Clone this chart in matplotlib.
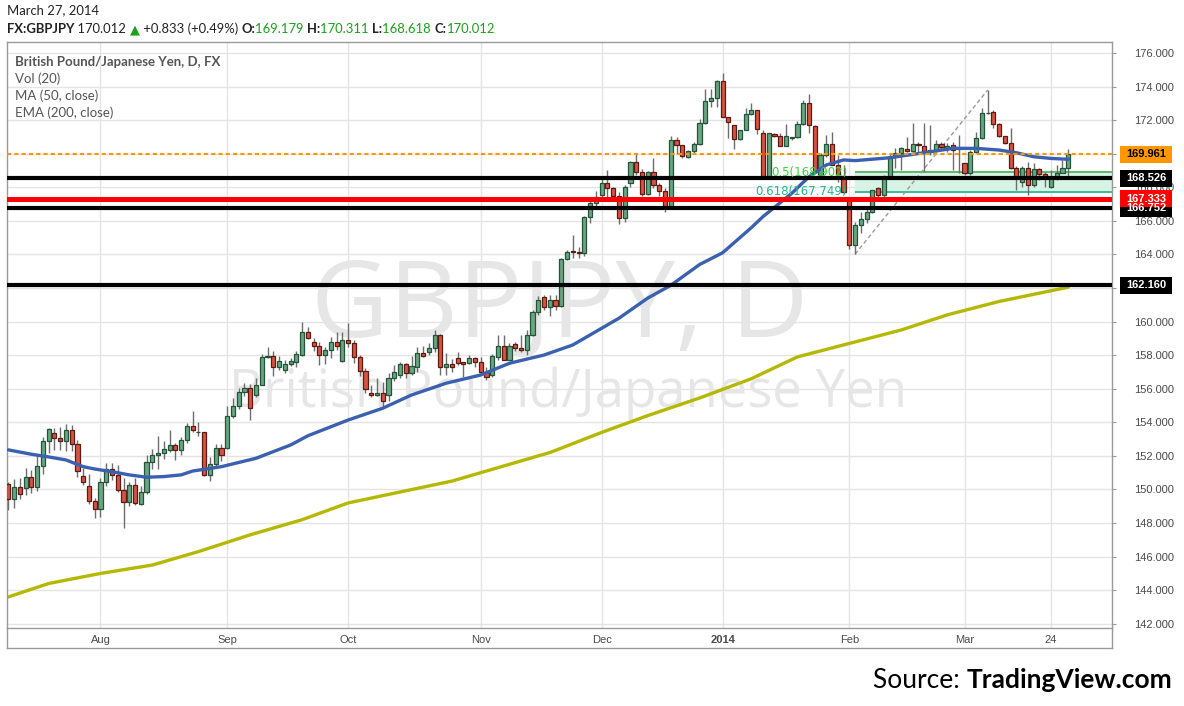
import numpy as np
import pandas as pd
import matplotlib
matplotlib.use("Agg")
import matplotlib.pyplot as plt
from matplotlib.patches import Rectangle

W, H = 1184, 706

# daily bars, Jul 10 2013 .. Mar 27 2014 (no bar on Dec 25 / Jan 1)
dates = pd.bdate_range("2013-07-10", "2014-03-27")
dates = dates[~dates.isin(pd.to_datetime(["2013-12-25", "2014-01-01"]))]

opens = [150.32, 149.46, 150.14, 150.10, 150.76, 150.16, 151.42, 152.86, 153.34, 153.04,
         152.86, 153.52, 152.70, 150.82, 150.22, 149.32, 148.86, 150.47, 151.22, 150.86,
         149.98, 149.24, 150.24, 149.14, 149.84, 151.65, 152.08, 152.20, 152.35, 152.67,
         152.35, 152.94, 153.80, 153.40, 153.42, 150.85, 151.54, 152.48, 152.48, 154.36,
         154.95, 155.78, 156.04, 155.64, 156.24, 157.92, 157.98, 157.27, 157.09, 157.50,
         157.62, 158.02, 159.41, 158.81, 158.57, 158.02, 158.28, 158.81, 157.66, 158.91,
         158.75, 157.92, 157.07, 155.72, 155.64, 155.76, 155.63, 156.63, 156.80, 157.48,
         156.92, 157.32, 158.12, 158.17, 158.41, 159.21, 157.28, 157.48, 157.82, 157.58,
         157.56, 157.86, 157.62, 157.02, 156.80, 157.91, 158.55, 157.71, 158.67, 158.41,
         158.29, 159.20, 160.55, 161.44, 160.89, 161.28, 160.95, 163.73, 164.20, 164.14,
         164.07, 166.25, 167.05, 167.55, 168.24, 167.94, 167.50, 166.15, 168.24, 169.49,
         168.93, 167.60, 168.89, 168.14, 167.80, 166.89, 170.82, 170.52, 169.79, 170.17,
         170.58, 171.81, 173.16, 173.30, 174.33, 172.21, 171.71, 170.86, 171.42, 172.37,
         172.61, 171.22, 168.68, 171.18, 171.06, 170.48, 170.96, 170.98, 171.78, 173.05,
         171.66, 168.68, 169.93, 170.60, 169.30, 168.68, 167.25, 164.57, 165.76, 166.10,
         166.55, 167.94, 167.55, 168.64, 169.89, 170.03, 170.28, 170.17, 170.56, 170.48,
         170.17, 170.23, 170.56, 170.36, 170.52, 170.30, 169.43, 168.87, 170.12, 170.92,
         172.40, 172.47, 171.75, 171.06, 170.62, 169.13, 168.33, 169.13, 168.14, 169.07,
         168.79, 167.99, 168.53, 168.87, 169.179]
highs = [150.42, 150.60, 150.66, 151.26, 151.16, 152.06, 153.10, 153.66, 153.66, 153.70,
         153.90, 153.86, 152.96, 151.26, 150.90, 149.52, 150.67, 151.55, 151.59, 151.45,
         150.70, 150.47, 150.67, 150.18, 152.08, 152.43, 153.20, 152.86, 153.55, 152.78,
         153.12, 153.96, 154.65, 154.02, 153.42, 151.92, 152.71, 152.71, 154.95, 155.45,
         156.04, 156.34, 156.28, 156.63, 158.06, 158.51, 158.26, 157.98, 157.72, 157.82,
         158.26, 160.00, 159.70, 159.01, 158.81, 158.51, 159.11, 159.41, 159.41, 159.94,
         158.91, 158.02, 157.23, 156.20, 156.67, 156.40, 156.96, 157.42, 157.62, 157.56,
         157.96, 158.51, 158.55, 158.71, 159.50, 159.27, 158.12, 157.76, 158.21, 157.62,
         158.02, 157.92, 157.90, 157.30, 158.10, 159.20, 159.20, 158.74, 158.80, 159.20,
         159.50, 160.69, 161.54, 161.58, 161.58, 161.58, 163.77, 164.26, 165.16, 164.43,
         166.29, 167.25, 167.80, 168.68, 169.03, 168.04, 167.74, 168.14, 169.59, 169.99,
         169.07, 168.97, 169.73, 168.24, 167.94, 171.06, 171.02, 170.52, 170.23, 170.72,
         172.05, 173.84, 173.84, 174.39, 174.79, 172.21, 171.71, 171.42, 172.71, 173.00,
         172.61, 171.42, 171.26, 171.22, 171.22, 171.76, 171.02, 171.92, 173.20, 173.56,
         171.72, 170.03, 171.12, 171.30, 169.90, 169.30, 167.25, 165.96, 166.50, 166.70,
         167.84, 168.04, 168.74, 169.97, 170.32, 170.42, 171.02, 171.81, 170.68, 171.81,
         171.71, 170.82, 170.72, 170.62, 170.72, 171.11, 169.47, 170.22, 171.32, 172.70,
         173.79, 172.60, 171.85, 171.06, 171.51, 169.27, 169.27, 169.53, 169.43, 169.13,
         168.93, 169.03, 169.33, 169.63, 170.311]
lows = [148.76, 148.92, 149.42, 149.66, 149.80, 149.92, 150.90, 152.20, 152.36, 152.36,
        152.30, 152.30, 150.72, 150.26, 149.12, 148.30, 148.35, 150.22, 150.57, 149.84,
        147.69, 149.00, 149.06, 149.06, 149.73, 151.25, 151.25, 151.80, 152.24, 151.75,
        152.08, 152.78, 153.43, 153.17, 150.79, 150.53, 151.29, 151.70, 152.44, 154.26,
        154.81, 155.54, 154.16, 155.48, 156.20, 157.82, 156.79, 157.13, 156.93, 157.33,
        157.31, 157.98, 158.97, 158.26, 157.39, 157.47, 157.82, 158.32, 157.62, 158.51,
        157.52, 156.79, 155.74, 155.49, 155.54, 154.89, 155.30, 156.49, 156.63, 156.63,
        156.82, 157.02, 157.88, 158.02, 158.21, 156.82, 156.82, 157.02, 157.42, 156.72,
        157.48, 157.32, 156.80, 156.50, 156.70, 157.71, 157.71, 157.71, 158.25, 158.21,
        158.01, 159.16, 160.39, 160.69, 160.35, 160.69, 160.89, 163.67, 163.77, 163.77,
        163.93, 165.90, 166.91, 167.35, 167.45, 167.41, 165.82, 165.96, 168.04, 168.74,
        167.47, 167.54, 167.94, 167.49, 166.55, 166.70, 169.99, 169.73, 169.73, 170.03,
        170.52, 171.77, 172.77, 172.77, 172.21, 170.92, 170.27, 170.82, 171.42, 172.31,
        171.18, 168.64, 168.54, 171.02, 170.46, 170.46, 170.82, 170.92, 171.72, 171.22,
        168.84, 168.54, 169.83, 169.40, 168.30, 167.60, 164.31, 164.02, 165.30, 165.90,
        166.45, 167.45, 167.45, 168.60, 169.17, 169.03, 170.09, 170.13, 170.13, 168.93,
        169.93, 170.13, 170.23, 170.13, 169.03, 168.83, 168.73, 168.73, 170.06, 170.86,
        172.37, 171.51, 170.98, 170.58, 169.07, 167.84, 168.03, 167.54, 168.04, 168.43,
        168.04, 167.94, 168.43, 168.83, 168.618]
closes = [149.46, 150.14, 149.74, 150.76, 150.14, 151.42, 152.86, 153.58, 153.04, 152.86,
          153.52, 152.70, 151.12, 150.46, 149.32, 148.86, 150.47, 151.22, 150.86, 149.98,
          149.24, 150.24, 149.18, 149.84, 151.65, 152.08, 152.20, 152.43, 152.67, 152.35,
          152.94, 153.80, 153.53, 153.42, 150.85, 151.54, 152.48, 152.08, 154.36, 154.95,
          155.78, 156.04, 154.85, 156.24, 157.92, 157.96, 157.27, 157.68, 157.49, 157.66,
          158.06, 159.41, 159.05, 158.57, 158.02, 158.28, 158.81, 158.57, 158.91, 158.75,
          157.92, 157.07, 156.00, 155.64, 155.76, 155.29, 156.63, 157.02, 157.48, 156.92,
          157.36, 158.12, 157.96, 158.41, 159.21, 157.28, 157.48, 157.28, 157.56, 157.46,
          157.86, 157.62, 157.02, 156.72, 157.95, 158.55, 157.71, 158.55, 158.41, 158.29,
          159.20, 160.55, 161.28, 160.89, 161.28, 160.95, 163.73, 164.16, 164.16, 164.10,
          166.25, 167.05, 167.45, 168.24, 167.94, 167.50, 166.15, 168.04, 169.49, 168.93,
          167.60, 168.89, 168.14, 167.80, 166.89, 170.82, 170.52, 169.87, 170.17, 170.58,
          171.81, 173.14, 173.30, 174.33, 172.21, 171.91, 170.86, 171.42, 172.37, 172.61,
          171.46, 168.68, 171.22, 171.06, 170.48, 171.08, 170.98, 171.78, 173.05, 171.72,
          168.94, 169.93, 170.58, 169.30, 168.68, 167.75, 164.57, 165.76, 166.10, 166.55,
          167.84, 167.55, 168.64, 169.83, 170.03, 170.36, 170.17, 170.56, 170.52, 170.17,
          170.25, 170.56, 170.38, 170.48, 170.22, 170.35, 168.87, 170.12, 170.92, 172.40,
          172.45, 171.75, 171.06, 170.62, 169.13, 168.53, 169.13, 168.14, 169.07, 168.79,
          168.53, 168.53, 168.87, 169.179, 170.012]

# MA(50) and EMA(200) at selected bars
ma50_bar = [0, 4, 7, 10, 13, 15, 18, 21, 24, 27, 30, 32, 37, 43, 49, 52, 59, 65, 70, 76,
            82, 87, 93, 98, 106, 111, 115, 120, 124, 129, 131, 136, 139, 142, 145, 147,
            153, 159, 164, 168, 172, 175, 178, 181, 184]
ma50_val = [152.36, 152.10, 151.94, 151.76, 151.36, 151.22, 151.06, 150.87, 150.73, 150.77,
            150.87, 151.10, 151.36, 151.86, 152.65, 153.20, 154.14, 154.84, 155.63, 156.33,
            156.82, 157.52, 158.01, 158.61, 160.20, 161.40, 162.16, 163.40, 164.10, 165.60,
            166.25, 167.64, 168.63, 169.33, 169.63, 169.59, 169.76, 170.06, 170.32, 170.32,
            170.22, 170.06, 169.82, 169.72, 169.67]
ema200_bar = [0, 7, 16, 25, 33, 42, 51, 59, 68, 77, 85, 94, 103, 111, 120, 129, 137, 146,
              155, 163, 172, 184]
ema200_val = [143.60, 144.40, 145.00, 145.50, 146.30, 147.30, 148.20, 149.20, 149.85, 150.50,
              151.30, 152.20, 153.40, 154.40, 155.45, 156.60, 157.90, 158.70, 159.50, 160.40,
              161.20, 162.05]

# horizontal levels, in drawing order (later ones sit on top at the price scale)
level_prices = [162.160, 166.752, 167.333, 168.526, 169.961]
level_colors = ["#000000", "#000000", "#ff0000", "#000000", "#ff9800"]

fib_low, fib_high = 164.017, 173.787
fib_start_bar, fib_end_bar = 147, 170
fib_ratios = [0.5, 0.618]

month_labels = ["Aug", "Sep", "Oct", "Nov", "Dec", "2014", "Feb", "Mar", "24"]
month_dates = ["2013-08-01", "2013-09-02", "2013-10-01", "2013-11-01", "2013-12-02",
               "2014-01-02", "2014-02-03", "2014-03-03", "2014-03-24"]

plt.rcParams["font.family"] = ["Lato", "DejaVu Sans"]

fig = plt.figure(figsize=(W / 100, H / 100), dpi=100)
fig.patch.set_facecolor("white")
ax = fig.add_axes([7 / W, 1 - 628 / H, (1112 - 7) / W, (628 - 42) / H])
xmax = 191.6
ax.set_xlim(-0.23, xmax)
ax.set_ylim(141.75, 176.655)

x = np.arange(len(dates))
tick_pos = [int(np.where(dates == pd.Timestamp(d))[0][0]) for d in month_dates]

# grid
for t in tick_pos:
    ax.axvline(t, color="#e4e4e4", lw=1, zorder=0)
for p in np.arange(142, 177, 2):
    ax.axhline(p, color="#e4e4e4", lw=1, zorder=0)

# watermark
ax.text(0.5, 0.545, "GBPJPY, D", transform=ax.transAxes, ha="center", va="center",
        fontsize=77, color="#e6e6e6", zorder=0.5, family=["Open Sans", "DejaVu Sans"])
ax.text(0.508, 0.4, "British Pound/Japanese Yen", transform=ax.transAxes, ha="center",
        va="center", fontsize=38, color="#e6e6e6", zorder=0.5, family=["Open Sans", "DejaVu Sans"])

# moving averages
ax.plot(ema200_bar, ema200_val, color="#b5b800", lw=2.4, zorder=2, solid_capstyle="round")
ax.plot(ma50_bar, ma50_val, color="#3a60b0", lw=2.4, zorder=4, solid_capstyle="round")

# fib retracement
fib_levels = [fib_high - r * (fib_high - fib_low) for r in fib_ratios]
ax.fill_between([fib_start_bar, xmax], fib_levels[1], fib_levels[0], color="#d6f3e6", zorder=1)
ax.hlines(fib_levels[0], fib_start_bar, xmax, color="#4caf50", lw=1.2, zorder=1.5)
ax.hlines(fib_levels[1], fib_start_bar, xmax, color="#1fb48a", lw=1.2, zorder=1.5)
ax.text(fib_start_bar - 1.4, fib_levels[0], "0.5(%.3f)" % fib_levels[0], ha="right", va="center",
        fontsize=8.5, color="#3fcf3f", zorder=6, family=["DejaVu Sans"])
ax.text(fib_start_bar - 1.4, fib_levels[1], "0.618(%.3f)" % fib_levels[1], ha="right", va="center",
        fontsize=8.5, color="#22b88e", zorder=6, family=["DejaVu Sans"])
ax.plot([fib_start_bar, fib_end_bar], [fib_low, fib_high], color="#9a9a9a", lw=1,
        ls=(0, (3, 2)), zorder=3)

# candles
for i in range(len(dates)):
    o, h, l, c = opens[i], highs[i], lows[i], closes[i]
    up = c >= o
    fc = "#6ba583" if up else "#d75442"
    ec = "#225437" if up else "#5b1a13"
    ax.vlines(x[i], l, h, color="#6d6d6d", lw=1, zorder=3)
    bot, top = min(o, c), max(o, c)
    ax.add_patch(Rectangle((x[i] - 0.36, bot), 0.72, max(top - bot, 0.04), facecolor=fc,
                           edgecolor=ec, lw=0.9, zorder=3.5))

# levels
for p, col in zip(level_prices, level_colors):
    if col == "#ff9800":
        ax.axhline(p, color=col, lw=1.5, ls=(0, (2, 1.5)), zorder=5)
    elif col == "#ff0000":
        ax.axhline(p, color=col, lw=3.6, zorder=5)
    else:
        ax.axhline(p, color=col, lw=3.0, zorder=5)

# axes styling; scale labels fully covered by the level boxes are left blank
for s in ax.spines.values():
    s.set_color("#9a9a9a")
    s.set_linewidth(1)
ax.yaxis.tick_right()
yt = np.arange(142, 177, 2)
ax.set_yticks(yt)
ylabels = ["" if v in (162, 170) else "%.3f" % v for v in yt]
ax.set_yticklabels(ylabels, family=["Liberation Sans"], fontsize=8, color="#4a4a4a")
ax.tick_params(axis="y", length=3, color="#9a9a9a", pad=13)
ax.set_xticks(tick_pos)
ax.set_xticklabels(month_labels, family=["Liberation Sans"], fontsize=8, color="#4a4a4a")
ax.tick_params(axis="x", length=0, pad=5)
for lab in ax.get_xticklabels():
    if lab.get_text() == "2014":
        lab.set_fontweight("bold")

# time axis strip border
fig.add_artist(plt.Line2D([7 / W, 1112 / W], [1 - 648 / H, 1 - 648 / H], color="#9a9a9a", lw=1))
fig.add_artist(plt.Line2D([7 / W, 7 / W], [1 - 648 / H, 1 - 628 / H], color="#9a9a9a", lw=1))
fig.add_artist(plt.Line2D([1112 / W, 1112 / W], [1 - 648 / H, 1 - 628 / H], color="#9a9a9a", lw=1))

# price labels on the right scale
ax_w = 1112 - 7
unit = 586 / (176.655 - 141.75)
for p, col in zip(level_prices, level_colors):
    tc = "#000000" if col == "#ff9800" else "#ffffff"
    ax.add_patch(Rectangle((1 + 8 / ax_w, p - 8.5 / unit), 52 / ax_w, 17 / unit,
                           transform=ax.get_yaxis_transform(), facecolor=col, edgecolor="none",
                           clip_on=False, zorder=10))
    ax.text(1 + 34 / ax_w, p, "%.3f" % p, transform=ax.get_yaxis_transform(), ha="center",
            va="center", fontsize=8, color=tc, family=["Liberation Sans"], fontweight="bold",
            zorder=11, clip_on=False)

# legend lines in pane
ax.text(8 / ax_w, 1 - 20 / 586, "British Pound/Japanese Yen, D, FX", transform=ax.transAxes,
        fontsize=9.5, color="#555555", fontweight="bold", va="center")
for k, s in enumerate(["Vol (20)", "MA (50, close)", "EMA (200, close)"]):
    ax.text(8 / ax_w, 1 - (37 + 17 * k) / 586, s, transform=ax.transAxes,
            fontsize=9.5, color="#555555", va="center")

# header
fs = 9.4
fig.text(7 / W, 1 - 10 / H, "March 27, 2014", fontsize=fs, color="#222222", va="center")
t = fig.text(7 / W, 1 - 29 / H, "FX:GBPJPY", fontsize=fs, color="#222222", va="center",
             fontweight="bold")
parts = [(" 170.012 ", "#222222", "normal"), ("\u25b2", "#1aa01a", "normal"),
         (" +0.833 (+0.49%) ", "#222222", "normal"), ("O:", "#222222", "bold"),
         ("169.179 ", "#1aa01a", "normal"), ("H:", "#222222", "bold"),
         ("170.311 ", "#1aa01a", "normal"), ("L:", "#222222", "bold"),
         ("168.618 ", "#1aa01a", "normal"), ("C:", "#222222", "bold"),
         ("170.012", "#1aa01a", "normal")]
for s, col, wgt in parts:
    t = plt.annotate(s, xy=(1, 0), xycoords=t, fontsize=fs, color=col, fontweight=wgt,
                     va="bottom", ha="left", annotation_clip=False)

# source
src = fig.text(873 / W, 1 - 680 / H, "Source: ", fontsize=19, color="#000000", va="center")
plt.annotate("TradingView.com", xy=(1, 0), xycoords=src, fontsize=19, color="#000000",
             fontweight="bold", va="bottom", ha="left", annotation_clip=False)

fig.savefig("out.png", dpi=100)
